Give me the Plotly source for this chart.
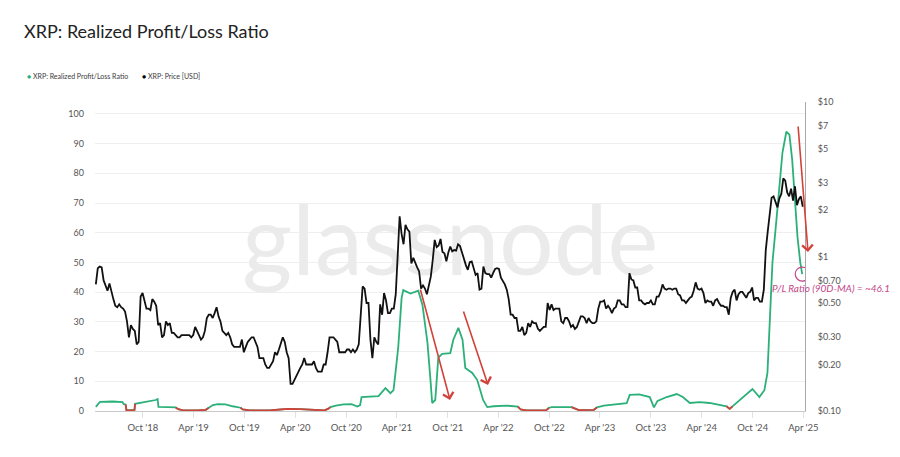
import pandas as pd
import plotly.graph_objects as go

# ---------------- data ----------------
# XRP price [USD], weekly (Sundays); grouped by month in comments
price_2018 = [0.66, 0.84, 0.86,                 # Apr (15..29)
              0.85, 0.70, 0.64, 0.60,           # May
              0.67, 0.58, 0.53, 0.48,           # Jun
              0.47, 0.49, 0.47, 0.46, 0.44,     # Jul
              0.38, 0.30, 0.36, 0.34,           # Aug
              0.33, 0.27, 0.28, 0.55, 0.58,     # Sep
              0.51, 0.46, 0.46, 0.45,           # Oct
              0.53, 0.51, 0.48, 0.36,           # Nov
              0.37, 0.30, 0.31, 0.38, 0.36]     # Dec
price_2019 = [0.37, 0.32, 0.32, 0.31,
              0.30, 0.30, 0.31, 0.31,
              0.31, 0.31, 0.31, 0.30, 0.31,
              0.35, 0.33, 0.31, 0.29,
              0.30, 0.33, 0.40, 0.42,
              0.42, 0.40, 0.43, 0.47, 0.41,
              0.38, 0.33, 0.32, 0.31,
              0.32, 0.30, 0.27, 0.26,
              0.26, 0.26, 0.26, 0.29, 0.24,
              0.26, 0.28, 0.29, 0.30,
              0.30, 0.28, 0.26, 0.22,
              0.22, 0.22, 0.20, 0.19, 0.19]
price_2020 = [0.20, 0.21, 0.24, 0.23,
              0.25, 0.28, 0.30, 0.28,
              0.24, 0.22, 0.15, 0.15, 0.16,
              0.17, 0.18, 0.19, 0.20,
              0.22, 0.20, 0.20, 0.20, 0.20,
              0.21, 0.19, 0.18, 0.18,
              0.18, 0.20, 0.20, 0.24,
              0.30, 0.30, 0.30, 0.29, 0.28,
              0.24, 0.24, 0.24, 0.24,
              0.25, 0.25, 0.24, 0.25,
              0.24, 0.25, 0.27, 0.45, 0.64,
              0.62, 0.50, 0.50, 0.29]
price_2021 = [0.22, 0.30, 0.28, 0.27, 0.49,
              0.42, 0.58, 0.52, 0.43,
              0.43, 0.46, 0.46, 0.57,
              0.95, 1.82, 1.40, 1.20,
              1.60, 1.50, 1.45, 0.90, 0.98,
              0.90, 0.85, 0.80, 0.62,
              0.65, 0.62, 0.57, 0.64,
              0.74, 0.95, 1.28, 1.15, 1.18,
              1.30, 1.07, 1.05, 0.93,
              1.06, 1.16, 1.08, 1.10, 1.09,
              1.20, 1.17, 1.06, 0.97,
              0.88, 0.82, 0.92, 0.93]
price_2022 = [0.85, 0.76, 0.78, 0.61, 0.62,
              0.86, 0.78, 0.77, 0.77,
              0.73, 0.78, 0.83, 0.84,
              0.83, 0.73, 0.70, 0.66,
              0.61, 0.53, 0.42, 0.42, 0.40,
              0.40, 0.33, 0.33, 0.35,
              0.31, 0.32, 0.37, 0.35, 0.38,
              0.37, 0.37, 0.34, 0.33,
              0.34, 0.35, 0.35, 0.50,
              0.45, 0.49, 0.45, 0.46, 0.46,
              0.46, 0.38, 0.37, 0.40,
              0.40, 0.38, 0.35, 0.36]
price_2023 = [0.34, 0.35, 0.38, 0.41, 0.41,
              0.40, 0.37, 0.40, 0.38,
              0.37, 0.37, 0.38, 0.46,
              0.51, 0.51, 0.52, 0.46, 0.48,
              0.46, 0.43, 0.46, 0.47,
              0.52, 0.52, 0.49, 0.49,
              0.47, 0.47, 0.78, 0.71, 0.70,
              0.63, 0.63, 0.52, 0.52,
              0.50, 0.49, 0.50, 0.50,
              0.52, 0.49, 0.49, 0.55, 0.55,
              0.59, 0.66, 0.62, 0.61,
              0.62, 0.62, 0.61, 0.62, 0.62]
price_2024 = [0.57, 0.56, 0.52, 0.52,
              0.50, 0.52, 0.54, 0.55,
              0.60, 0.68, 0.62, 0.61, 0.62,
              0.58, 0.50, 0.52, 0.51,
              0.51, 0.48, 0.52, 0.53,
              0.50, 0.48, 0.48, 0.47, 0.47,
              0.42, 0.54, 0.59, 0.61,
              0.52, 0.57, 0.59, 0.59,
              0.56, 0.54, 0.58, 0.59, 0.63,
              0.52, 0.54, 0.54, 0.51,
              0.51, 0.61, 1.10, 1.45,
              1.95, 2.40, 2.45, 2.25, 2.08]
price_2025 = [2.38, 2.55, 3.20, 3.10,
              2.60, 2.45, 2.75, 2.30,
              2.85, 2.15, 2.35, 2.45, 2.10]  # .. Mar 30

# Realized Profit/Loss Ratio (90D-MA), key points
pl_dates = [
    "2018-04-15", "2018-04-30", "2018-06-15", "2018-07-20", "2018-07-24", "2018-07-31", "2018-08-03", "2018-08-25",
    "2018-09-01", "2018-09-03", "2018-09-24", "2018-10-20", "2018-11-16", "2018-11-23", "2018-11-26", "2018-12-31",
    "2019-01-27", "2019-02-05", "2019-02-20", "2019-04-15", "2019-05-15", "2019-05-26", "2019-06-10", "2019-06-27",
    "2019-07-25", "2019-08-20", "2019-09-17", "2019-09-25", "2019-10-20", "2019-12-31", "2020-02-07", "2020-03-05",
    "2020-04-19", "2020-06-01", "2020-07-15", "2020-07-29", "2020-08-05", "2020-08-25", "2020-09-21", "2020-10-20",
    "2020-11-10", "2020-11-20", "2020-11-25", "2021-01-25", "2021-02-19", "2021-03-09", "2021-03-20", "2021-03-27",
    "2021-04-06", "2021-04-18", "2021-04-24", "2021-05-20", "2021-06-17", "2021-07-02", "2021-07-20", "2021-07-30",
    "2021-08-06", "2021-08-17", "2021-08-28", "2021-09-11", "2021-10-10", "2021-10-21", "2021-11-08", "2021-11-23",
    "2021-12-03", "2021-12-28", "2022-01-15", "2022-02-05", "2022-02-20", "2022-03-15", "2022-05-01", "2022-06-10",
    "2022-06-20", "2022-07-10", "2022-09-20", "2022-09-30", "2022-10-10", "2022-12-20", "2022-12-31", "2023-01-15",
    "2023-03-10", "2023-03-21", "2023-04-15", "2023-06-11", "2023-07-06", "2023-07-17", "2023-08-20", "2023-09-27",
    "2023-10-12", "2023-10-25", "2023-11-27", "2024-01-02", "2024-01-24", "2024-02-18", "2024-03-24", "2024-04-29",
    "2024-06-04", "2024-06-29", "2024-07-10", "2024-07-20", "2024-08-15", "2024-09-30", "2024-10-25", "2024-11-12",
    "2024-11-23", "2024-11-30", "2024-12-07", "2024-12-11", "2024-12-25", "2025-01-05", "2025-01-16", "2025-01-30",
    "2025-02-10", "2025-02-20", "2025-03-03", "2025-03-11", "2025-03-21", "2025-03-28",
]
pl_ratio = [
    1.4, 3.1, 3.2, 3.0, 2.3, 2.2, 0.3, 0.2,
    0.4, 2.4, 2.7, 3.3, 3.7, 4.0, 1.4, 1.3,
    1.2, 0.6, 0.3, 0.2, 0.4, 1.1, 2.0, 2.3,
    2.2, 1.6, 1.1, 0.5, 0.2, 0.2, 0.5, 0.7,
    0.6, 0.3, 0.2, 0.8, 1.3, 1.8, 2.2, 2.3,
    1.5, 2.0, 4.7, 5.0, 7.7, 6.0, 7.0, 12.8,
    21.5, 38.0, 40.7, 39.5, 40.5, 35.7, 23.0, 11.4,
    2.7, 3.7, 18.0, 19.2, 19.5, 24.0, 28.0, 24.0,
    14.5, 12.8, 10.4, 3.7, 1.3, 1.6, 1.8, 1.5,
    0.5, 0.2, 0.3, 1.1, 1.3, 1.3, 0.8, 0.3,
    0.4, 1.2, 1.8, 2.5, 2.6, 5.4, 5.6, 4.7,
    1.2, 3.4, 4.7, 5.7, 4.7, 2.7, 3.0, 2.7,
    2.0, 1.6, 0.7, 1.5, 3.7, 7.4, 4.7, 7.0,
    12.8, 28.0, 45.0, 50.0, 64.0, 75.0, 87.0, 94.0,
    93.0, 84.5, 67.7, 58.6, 50.0, 46.1,
]

x_tick_vals = ["2018-10-01", "2019-04-01", "2019-10-01", "2020-04-01", "2020-10-01", "2021-04-01", "2021-10-01",
               "2022-04-01", "2022-10-01", "2023-04-01", "2023-10-01", "2024-04-01", "2024-10-01", "2025-04-01"]
x_tick_text = ["Oct '18", "Apr '19", "Oct '19", "Apr '20", "Oct '20", "Apr '21", "Oct '21",
               "Apr '22", "Oct '22", "Apr '23", "Oct '23", "Apr '24", "Oct '24", "Apr '25"]
left_tick_vals = [0, 10, 20, 30, 40, 50, 60, 70, 80, 90, 100]
right_tick_vals = [0.1, 0.2, 0.3, 0.5, 0.7, 1, 2, 3, 5, 7, 10]
right_tick_text = ["$0.10", "$0.20", "$0.30", "$0.50", "$0.70", "$1", "$2", "$3", "$5", "$7", "$10"]

# ---------------- build series ----------------
price_values = price_2018 + price_2019 + price_2020 + price_2021 + price_2022 + price_2023 + price_2024 + price_2025
price_dates = pd.date_range("2018-04-15", "2025-03-30", freq="W-SUN")
assert len(price_dates) == len(price_values), (len(price_dates), len(price_values))

n = len(pl_ratio)
assert len(pl_dates) == n
pl_red = []
for i, v in enumerate(pl_ratio):
    below = v < 1 or (i > 0 and pl_ratio[i - 1] < 1) or (i < n - 1 and pl_ratio[i + 1] < 1)
    pl_red.append(v if below else None)

GREEN = "#2bb07a"
RED = "#d2423a"
PINK = "#c4478a"
FONT = "Lato, 'Open Sans', sans-serif"

fig = go.Figure()

# watermark (drawn first so it stays behind the lines)
fig.add_trace(go.Scatter(
    x=["2021-10-10"], y=[54], mode="text", text=["glassnode"],
    textfont=dict(size=96, color="#ebebeb", family="Lato"),
    hoverinfo="skip", showlegend=False, cliponaxis=False,
))

fig.add_trace(go.Scatter(
    x=pl_dates, y=pl_ratio, mode="lines", name="XRP: Realized Profit/Loss Ratio",
    line=dict(color=GREEN, width=1.8), showlegend=False,
))
fig.add_trace(go.Scatter(
    x=pl_dates, y=pl_red, mode="lines", line=dict(color=RED, width=1.8),
    showlegend=False, connectgaps=False, hoverinfo="skip",
))
fig.add_trace(go.Scatter(
    x=price_dates, y=price_values, mode="lines", name="XRP: Price [USD]",
    line=dict(color="#111111", width=1.8), yaxis="y2", showlegend=False,
))

# circle at the latest P/L value
fig.add_shape(type="circle", xref="x", yref="y", xsizemode="pixel", ysizemode="pixel",
              xanchor=pl_dates[-1], yanchor=pl_ratio[-1], x0=-7, x1=7, y0=-7, y1=7,
              line=dict(color=PINK, width=1.2))

# red arrows
for (hx, hy, ax, ay) in [(450, 400, -30, -112), (488, 385, -25, -75), (808, 252, -10, -127)]:
    fig.add_annotation(x=(hx - 95) / 710, y=(411 - hy) / 309, xref="paper", yref="paper",
                       ax=ax, ay=ay, showarrow=True, arrowhead=4, arrowsize=1.3,
                       arrowwidth=1.6, arrowcolor=RED, text="")

fig.add_annotation(x=(831 - 95) / 710, y=(411 - 288) / 309, xref="paper", yref="paper",
                   text="<i>P/L Ratio (90D-MA) = ~46.1</i>", showarrow=False,
                   font=dict(size=10, color=PINK, family=FONT), xanchor="center", yanchor="middle")

# title
fig.add_annotation(x=(22 - 95) / 710, y=(411 - 31) / 309, xref="paper", yref="paper",
                   xanchor="left", yanchor="middle",
                   text="XRP: Realized Profit/Loss Ratio", showarrow=False,
                   font=dict(size=18, color="#222222", family=FONT))

# legend
fig.add_annotation(x=(25 - 95) / 710, y=(411 - 76) / 309, xref="paper", yref="paper", xanchor="left",
                   yanchor="middle", showarrow=False,
                   text=f"<span style='color:{GREEN}'>●</span> XRP: Realized Profit/Loss Ratio",
                   font=dict(size=7, color="#3a3a3a", family=FONT))
fig.add_annotation(x=(140 - 95) / 710, y=(411 - 76) / 309, xref="paper", yref="paper", xanchor="left",
                   yanchor="middle", showarrow=False,
                   text="<span style='color:#000'>●</span> XRP: Price [USD]",
                   font=dict(size=7, color="#3a3a3a", family=FONT))

fig.update_layout(
    width=900, height=457,
    margin=dict(l=95, r=95, t=102, b=46),
    paper_bgcolor="white", plot_bgcolor="white",
    font=dict(family=FONT, size=9, color="#555555"),
    showlegend=False,
    xaxis=dict(
        type="date", range=["2018-04-12", "2025-04-07"],
        tickvals=x_tick_vals, ticktext=x_tick_text,
        showgrid=False, ticks="outside", ticklen=6, tickcolor="#e2e2e2",
        showline=True, linecolor="#c9c9c9", linewidth=1,
        tickfont=dict(size=9.5, color="#555555"), ticklabelstandoff=2,
    ),
    yaxis=dict(
        range=[0, 104], tickvals=left_tick_vals, showgrid=True, gridcolor="#efefef",
        zeroline=False, showline=False, tickfont=dict(size=9, color="#555555"),
        ticklabelstandoff=10,
    ),
    yaxis2=dict(
        type="log", range=[-1, 1], overlaying="y", side="right",
        tickvals=right_tick_vals, ticktext=right_tick_text, showgrid=False, zeroline=False,
        showline=True, linecolor="#a8a8a8", linewidth=1,
        tickfont=dict(size=9, color="#555555"), ticklabelstandoff=10,
    ),
)

fig.write_html("out.html")
